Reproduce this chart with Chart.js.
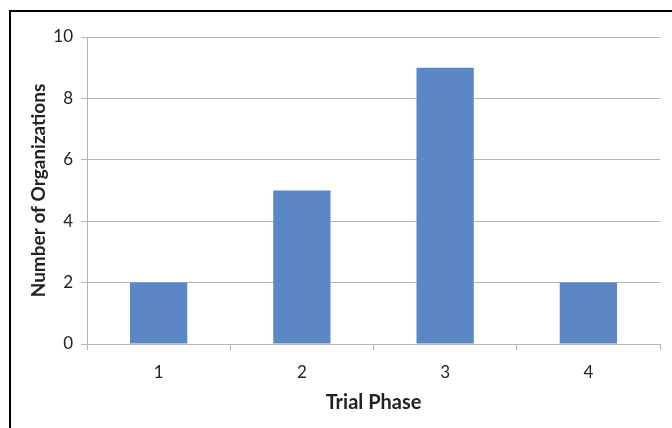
<!DOCTYPE html>
<html>
<head>
<meta charset="utf-8">
<script src="https://cdn.jsdelivr.net/npm/chart.js@4"></script>
<style>
  html, body { margin: 0; padding: 0; background: #fff; }
  #wrap { position: relative; width: 672px; height: 428px; }
</style>
</head>
<body>
<div id="wrap"><canvas id="phaseChart" width="672" height="428"></canvas></div>
<script>
// Organizations per trial phase
const phases = ['1', '2', '3', '4'];
const orgCounts = [2, 5, 9, 2];
const yTicks = [0, 2, 4, 6, 8, 10];

const gridGray = '#b5b5b5';
const barBlue = '#5b87c6';

// black frame lines on top and left edges
const framePlugin = {
    id: 'frame',
    afterDraw(chart) {
        const c = chart.ctx;
        c.save();
        c.strokeStyle = '#000';
        c.lineWidth = 2;
        c.beginPath();
        c.moveTo(10, 428);
        c.lineTo(10, 11);
        c.lineTo(672, 11);
        c.stroke();
        c.restore();
    }
};

new Chart(document.getElementById('phaseChart'), {
    type: 'bar',
    data: {
        labels: phases,
        datasets: [{
            data: orgCounts,
            backgroundColor: barBlue,
            borderWidth: 0,
            categoryPercentage: 0.4,
            barPercentage: 1.0
        }]
    },
    options: {
        responsive: false,
        animation: false,
        layout: { padding: { top: 37, right: 12, left: 10, bottom: 0 } },
        plugins: {
            legend: { display: false },
            tooltip: { enabled: false }
        },
        scales: {
            x: {
                offset: true,
                afterFit(scale) { scale.height = 84; },
                grid: {
                    offset: true,
                    drawOnChartArea: false,
                    drawTicks: true,
                    tickLength: 6,
                    color: gridGray
                },
                border: { color: gridGray, width: 1 },
                ticks: {
                    color: '#222',
                    padding: 12,
                    font: { family: 'Lato', size: 17 }
                },
                title: {
                    display: true,
                    text: 'Trial Phase',
                    color: '#222',
                    padding: { top: 0, bottom: 13 },
                    font: { family: 'Lato', size: 20, weight: 'bold' }
                }
            },
            y: {
                min: 0,
                max: 10,
                afterFit(scale) { scale.width = 77; },
                afterBuildTicks(scale) {
                    scale.ticks = yTicks.map(v => ({ value: v }));
                },
                grid: {
                    color: gridGray,
                    drawTicks: true,
                    tickLength: 6
                },
                border: { color: gridGray, width: 1 },
                ticks: {
                    color: '#222',
                    padding: 8,
                    font: { family: 'Lato', size: 17 }
                },
                title: {
                    display: true,
                    text: 'Number of Organizations',
                    color: '#222',
                    padding: { top: 17, bottom: 0 },
                    font: { family: 'Lato', size: 19, weight: 'bold' }
                }
            }
        }
    },
    plugins: [framePlugin]
});
</script>
</body>
</html>
